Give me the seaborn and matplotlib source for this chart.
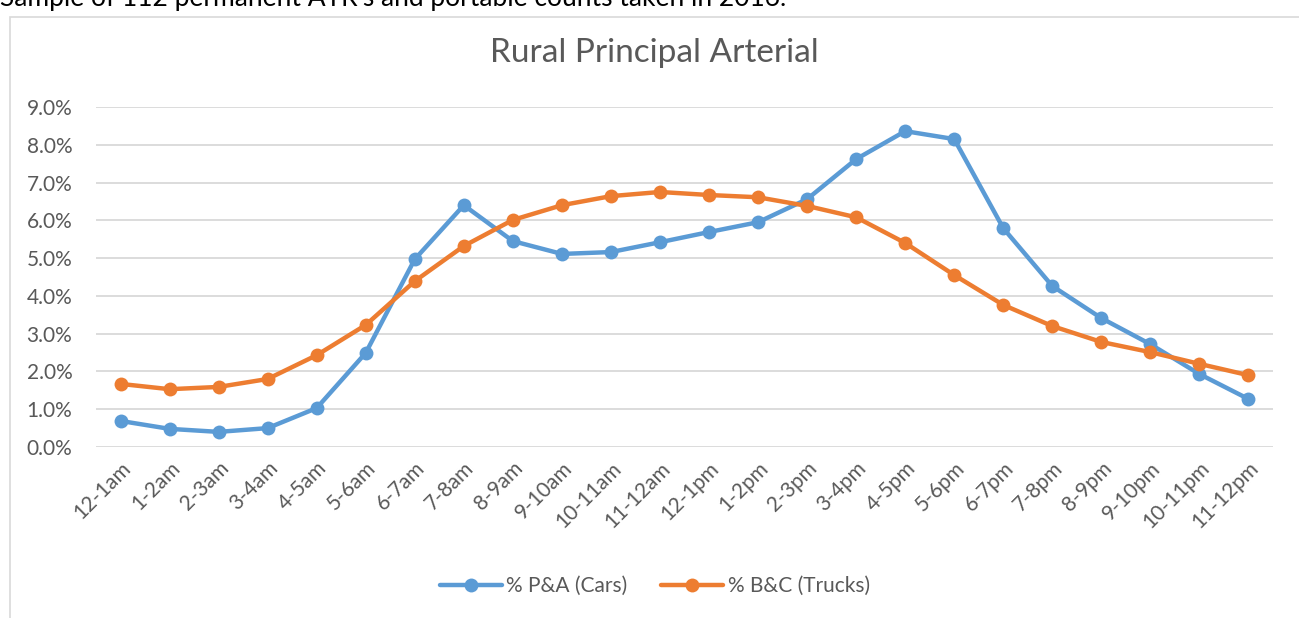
import matplotlib
matplotlib.use("Agg")
import matplotlib.pyplot as plt
import matplotlib.patches as patches
from matplotlib.ticker import PercentFormatter
import pandas as pd
import seaborn as sns

hours = ["12-1am", "1-2am", "2-3am", "3-4am", "4-5am", "5-6am", "6-7am", "7-8am",
         "8-9am", "9-10am", "10-11am", "11-12am", "12-1pm", "1-2pm", "2-3pm", "3-4pm",
         "4-5pm", "5-6pm", "6-7pm", "7-8pm", "8-9pm", "9-10pm", "10-11pm", "11-12pm"]

cars = [0.69, 0.48, 0.40, 0.50, 1.03, 2.49, 4.97, 6.40, 5.45, 5.11, 5.16, 5.42,
        5.69, 5.95, 6.56, 7.62, 8.36, 8.15, 5.79, 4.26, 3.41, 2.72, 1.93, 1.27]

trucks = [1.67, 1.53, 1.59, 1.80, 2.43, 3.23, 4.39, 5.32, 6.01, 6.40, 6.64, 6.75,
          6.67, 6.61, 6.38, 6.08, 5.40, 4.55, 3.76, 3.20, 2.78, 2.51, 2.20, 1.90]

series_names = ["% P&A (Cars)", "% B&C (Trucks)"]
colors = ["#5B9BD5", "#ED7D31"]

df = pd.DataFrame({"hour": hours, series_names[0]: cars, series_names[1]: trucks})
long_df = df.melt(id_vars="hour", var_name="series", value_name="pct")
long_df["x"] = long_df["hour"].map({h: i for i, h in enumerate(hours)})

sns.set_style("white")
plt.rcParams["font.family"] = ["Lato", "DejaVu Sans"]
text_col = "#595959"

fig = plt.figure(figsize=(12.99, 6.18), dpi=100)
ax = fig.add_axes([0.0739, 0.2767, 0.9061, 0.5502])

sns.lineplot(data=long_df, x="x", y="pct", hue="series", palette=colors,
             marker="o", markersize=10, markeredgewidth=0, linewidth=3.2,
             ax=ax, legend=False)

ax.set_xlim(-0.5, len(hours) - 0.5)
ax.set_ylim(0, 9)
ax.set_yticks(range(0, 10))
ax.yaxis.set_major_formatter(PercentFormatter(decimals=1))
ax.set_xticks(range(len(hours)))
ax.set_xticklabels(hours, rotation=45, ha="right", rotation_mode="anchor")
ax.tick_params(axis="both", length=0, labelsize=15, labelcolor=text_col)
ax.tick_params(axis="y", pad=17)
ax.tick_params(axis="x", pad=8)
ax.grid(axis="y", color="#D9D9D9", linewidth=1.3)
ax.set_axisbelow(True)
for s in ax.spines.values():
    s.set_visible(False)
ax.set_xlabel("")
ax.set_ylabel("")

fig.text(0.504, 0.915, "Rural Principal Arterial", ha="center", va="center",
         fontsize=24, color=text_col)

# chart frame (partly outside the image)
fig.patches.append(patches.Rectangle((10 / 1299, -0.1), 1.2, 1.1 - 17 / 618,
                                     transform=fig.transFigure, fill=False,
                                     edgecolor="#D9D9D9", linewidth=1.2))

# caption above the chart, cut by the top edge as in the source
fig.text(0.0, 1 - 6 / 618, "Sample of 112 permanent ATR's and portable counts taken in 2016.",
         ha="left", va="baseline", fontsize=19, color="black")

handles = [plt.Line2D([], [], color=c, marker="o", markersize=10, linewidth=3.2,
                      markeredgewidth=0) for c in colors]
fig.legend(handles, series_names, loc="center", bbox_to_anchor=(0.504, 0.052),
           ncol=2, frameon=False, fontsize=15, labelcolor=text_col,
           handlelength=3.0, handletextpad=0.2, columnspacing=1.6)

fig.savefig("out.png", dpi=100)
